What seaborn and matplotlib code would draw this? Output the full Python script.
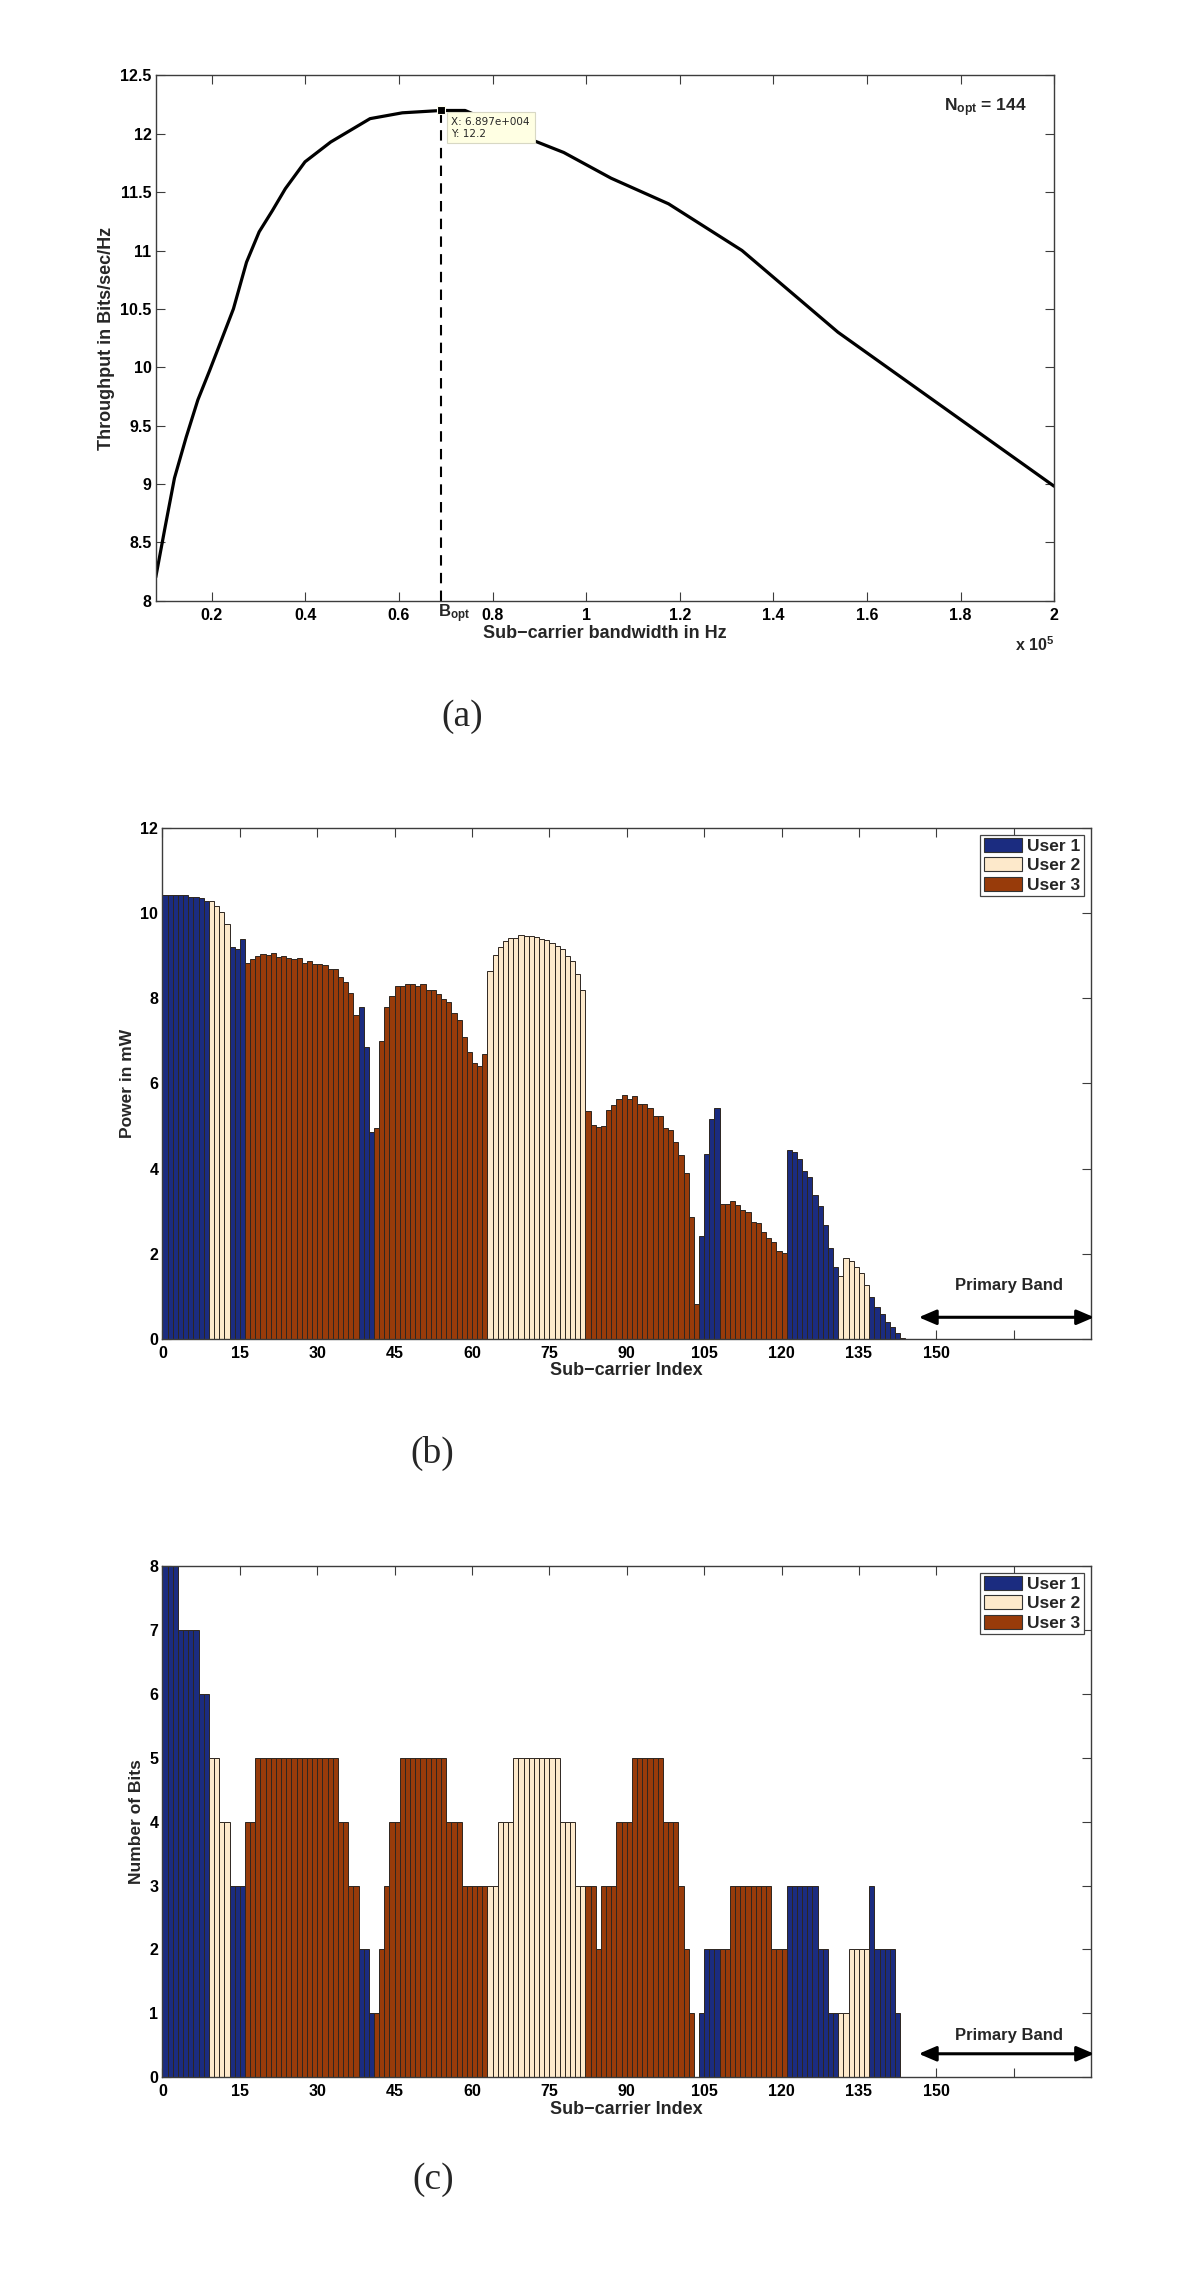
import numpy as np
import pandas as pd
import matplotlib
matplotlib.use("Agg")
import matplotlib.pyplot as plt
import matplotlib.transforms as mtransforms
from matplotlib.patches import Patch
import seaborn as sns

# ---------------- data ----------------
# (a) throughput vs sub-carrier bandwidth (x in units of 1e5 Hz)
bandwidth = [0.080, 0.100, 0.120, 0.145, 0.170, 0.195, 0.222, 0.246, 0.274, 0.301,
             0.329, 0.357, 0.399, 0.454, 0.538, 0.607, 0.6897, 0.741, 0.800, 0.870,
             0.952, 1.053, 1.176, 1.333, 1.538, 2.000]
throughput = [8.20, 8.63, 9.05, 9.40, 9.72, 9.97, 10.25, 10.50, 10.90, 11.16,
              11.34, 11.53, 11.76, 11.93, 12.13, 12.18, 12.20, 12.20, 12.10, 11.97,
              11.84, 11.62, 11.40, 11.00, 10.30, 8.98]
b_opt = 0.6897
t_opt = 12.2

# (b) power per sub-carrier (mW)
power = [10.42, 10.42, 10.42, 10.41, 10.41, 10.38, 10.37, 10.34, 10.29,
         10.27, 10.16, 10.03, 9.74,
         9.19, 9.16, 9.39,
         8.82, 8.92, 9.00, 9.04, 9.01, 9.05, 8.97, 8.99, 8.95, 8.92, 8.93,
         8.83, 8.88, 8.79, 8.79, 8.77, 8.68, 8.68, 8.50, 8.39, 8.13, 7.61,
         7.80, 6.85, 4.86,
         4.96, 6.99, 7.80, 8.05, 8.28, 8.28, 8.34, 8.34, 8.29, 8.32, 8.19,
         8.20, 8.09, 7.99, 7.91, 7.65, 7.49, 7.08, 6.73, 6.48, 6.41, 6.68,
         8.64, 9.01, 9.21, 9.33, 9.42, 9.42, 9.47, 9.45, 9.45, 9.44, 9.38,
         9.37, 9.29, 9.23, 9.15, 9.00, 8.87, 8.56, 8.19,
         5.36, 5.02, 4.98, 5.01, 5.38, 5.49, 5.63, 5.72, 5.63, 5.70, 5.52,
         5.51, 5.41, 5.24, 5.23, 4.96, 4.90, 4.62, 4.32, 3.90, 2.86, 0.81,
         2.41, 4.34, 5.16, 5.41,
         3.18, 3.16, 3.23, 3.14, 3.02, 2.99, 2.75, 2.72, 2.50, 2.36, 2.27, 2.07, 2.01,
         4.44, 4.38, 4.23, 3.94, 3.81, 3.39, 3.13, 2.68, 2.13, 1.69,
         1.47, 1.91, 1.83, 1.70, 1.55, 1.26,
         0.99, 0.74, 0.58, 0.41, 0.28, 0.13, 0.02]

# (c) bits per sub-carrier
bits = [8, 8, 8, 7, 7, 7, 7, 6, 6,
        5, 5, 4, 4,
        3, 3, 3,
        4, 4, 5, 5, 5, 5, 5, 5, 5, 5, 5, 5, 5, 5, 5, 5, 5, 5, 4, 4, 3, 3,
        2, 2, 1,
        1, 2, 3, 4, 4, 5, 5, 5, 5, 5, 5, 5, 5, 5, 4, 4, 4, 3, 3, 3, 3, 3,
        3, 3, 4, 4, 4, 5, 5, 5, 5, 5, 5, 5, 5, 5, 4, 4, 4, 3, 3,
        3, 3, 2, 3, 3, 3, 4, 4, 4, 5, 5, 5, 5, 5, 5, 4, 4, 4, 3, 2, 1, 0,
        1, 2, 2, 2,
        2, 2, 3, 3, 3, 3, 3, 3, 3, 3, 2, 2, 2,
        3, 3, 3, 3, 3, 3, 2, 2, 1, 1,
        1, 1, 2, 2, 2, 2,
        3, 2, 2, 2, 2, 1, 0]

# user owning each sub-carrier
users = [1, 1, 1, 1, 1, 1, 1, 1, 1,
         2, 2, 2, 2,
         1, 1, 1,
         3, 3, 3, 3, 3, 3, 3, 3, 3, 3, 3, 3, 3, 3, 3, 3, 3, 3, 3, 3, 3, 3,
         1, 1, 1,
         3, 3, 3, 3, 3, 3, 3, 3, 3, 3, 3, 3, 3, 3, 3, 3, 3, 3, 3, 3, 3, 3,
         2, 2, 2, 2, 2, 2, 2, 2, 2, 2, 2, 2, 2, 2, 2, 2, 2, 2, 2,
         3, 3, 3, 3, 3, 3, 3, 3, 3, 3, 3, 3, 3, 3, 3, 3, 3, 3, 3, 3, 3, 3,
         1, 1, 1, 1,
         3, 3, 3, 3, 3, 3, 3, 3, 3, 3, 3, 3, 3,
         1, 1, 1, 1, 1, 1, 1, 1, 1, 1,
         2, 2, 2, 2, 2, 2,
         1, 1, 1, 1, 1, 1, 1]

user_names = ["User 1", "User 2", "User 3"]
user_colors = ["#1b2c80", "#fde9cb", "#983b0a"]

xticks_idx = [0, 15, 30, 45, 60, 75, 90, 105, 120, 135, 150, 165]
xtick_labels = ["0", "15", "30", "45", "60", "75", "90", "105", "120", "135", "150", ""]

# ---------------- style ----------------
sns.set_theme(style="white")
plt.rcParams["font.family"] = ["Liberation Sans", "DejaVu Sans"]
plt.rcParams["font.weight"] = "bold"
plt.rcParams["axes.labelweight"] = "bold"
plt.rcParams["mathtext.fontset"] = "custom"
plt.rcParams["mathtext.rm"] = "Liberation Sans:bold"
plt.rcParams["mathtext.bf"] = "Liberation Sans:bold"
plt.rcParams["mathtext.it"] = "Liberation Sans:bold"

spine_col = "#3c3c3c"
tick_fs = 11.5
label_fs = 13


def style_axes(ax):
    for s in ax.spines.values():
        s.set_visible(True)
        s.set_color(spine_col)
        s.set_linewidth(1.0)
    ax.tick_params(axis="both", which="both", direction="in", length=6.5, width=0.8,
                   colors=spine_col, top=True, right=True, bottom=True, left=True,
                   labelsize=tick_fs, labelcolor="black")
    ax.tick_params(axis="x", pad=5)
    ax.tick_params(axis="y", pad=3)
    for lab in ax.get_xticklabels() + ax.get_yticklabels():
        lab.set_fontweight("bold")


fig = plt.figure(figsize=(12, 22.94), dpi=100)

# ---------------- panel (a) ----------------
axA = fig.add_axes([0.1298, 0.7382, 0.7486, 0.2289])
dfA = pd.DataFrame({"bw": bandwidth, "tp": throughput})
sns.lineplot(data=dfA, x="bw", y="tp", color="black", linewidth=2.3,
             estimator=None, ax=axA)
axA.plot([b_opt, b_opt], [8.0, t_opt], color="black", lw=1.5, ls=(0, (5, 3.5)))
axA.plot([b_opt], [t_opt], marker="s", ms=5.5, mfc="black", mec="#fffff0", mew=0.8)
axA.text(0.712, 12.147, "X: 6.897e+004\nY: 12.2", fontsize=7.5, fontweight="normal",
         family=["DejaVu Sans"], ha="left", va="top", linespacing=1.25,
         bbox=dict(boxstyle="square,pad=0.45", fc="#ffffe3", ec="#d8d8c4", lw=0.8))
axA.text(1.765, 12.22, r"N$_{\mathrm{opt}}$ = 144", fontsize=12.5, fontweight="bold",
         ha="left", va="center")
axA.set_xlim(0.08, 2.0)
axA.set_ylim(8.0, 12.5)
axA.set_xticks([0.2, 0.4, 0.6, 0.8, 1.0, 1.2, 1.4, 1.6, 1.8, 2.0])
axA.set_xticklabels(["0.2", "0.4", "0.6", "0.8", "1", "1.2", "1.4", "1.6", "1.8", "2"])
axA.set_yticks([8, 8.5, 9, 9.5, 10, 10.5, 11, 11.5, 12, 12.5])
axA.set_yticklabels(["8", "8.5", "9", "9.5", "10", "10.5", "11", "11.5", "12", "12.5"])
axA.set_xlabel("Sub\u2212carrier bandwidth in Hz", fontsize=label_fs, fontweight="bold",
               labelpad=2)
axA.set_ylabel("Throughput in Bits/sec/Hz", fontsize=label_fs, fontweight="bold")
style_axes(axA)
trA = mtransforms.blended_transform_factory(axA.transData, axA.transAxes)
axA.text(0.684, -0.003, r"B$_{\mathrm{opt}}$", transform=trA, fontsize=12,
         fontweight="bold", ha="left", va="top")
axA.text(1.0, -0.066, r"x 10$^{5}$", transform=axA.transAxes, fontsize=11.5,
         fontweight="bold", ha="right", va="top")

# ---------------- bar panels ----------------
idx_pos = np.arange(len(power)) + 0.5
user_lab = [user_names[u - 1] for u in users]
legend_handles = [Patch(facecolor=c, edgecolor="#333333", linewidth=0.8, label=n)
                  for n, c in zip(user_names, user_colors)]


def bar_panel(rect, values, ylim, yticks, ylabel, arrow_y, text_y):
    ax = fig.add_axes(rect)
    df = pd.DataFrame({"idx": idx_pos, "val": values, "user": user_lab})
    sns.barplot(data=df, x="idx", y="val", hue="user", hue_order=user_names,
                palette=dict(zip(user_names, user_colors)), native_scale=True,
                width=1.0, dodge=False, saturation=1, errorbar=None, legend=False,
                edgecolor="#2e2620", linewidth=0.7, ax=ax)
    ax.set_xlim(0, 180)
    ax.set_ylim(*ylim)
    ax.set_xticks(xticks_idx)
    ax.set_xticklabels(xtick_labels)
    ax.set_yticks(yticks)
    ax.set_yticklabels([str(v) for v in yticks])
    ax.set_xlabel("Sub\u2212carrier Index", fontsize=label_fs, fontweight="bold", labelpad=1)
    ax.set_ylabel(ylabel, fontsize=label_fs - 0.5, fontweight="bold")
    style_axes(ax)
    leg = ax.legend(handles=legend_handles, loc="upper right", bbox_to_anchor=(1.0, 1.0),
                    borderaxespad=0.4, fancybox=False, framealpha=1, edgecolor="#444444",
                    prop={"weight": "bold", "size": 12.5}, handlelength=2.2,
                    handleheight=0.85, handletextpad=0.3, labelspacing=0.2,
                    borderpad=0.2)
    leg.get_frame().set_linewidth(0.9)
    ax.annotate("", xy=(180.6, arrow_y), xytext=(146.6, arrow_y),
                arrowprops=dict(arrowstyle="<|-|>,head_length=0.7,head_width=0.3",
                                color="black", lw=2.2, mutation_scale=15,
                                shrinkA=0, shrinkB=0),
                annotation_clip=False)
    ax.text(164.0, text_y, "Primary Band", fontsize=12, fontweight="bold",
            ha="center", va="center")
    return ax


axB = bar_panel([0.1354, 0.4163, 0.7738, 0.2229], power, (0, 12),
                [0, 2, 4, 6, 8, 10, 12], "Power in mW", 0.51, 1.25)
axC = bar_panel([0.1354, 0.0944, 0.7738, 0.2231], bits, (0, 8),
                [0, 1, 2, 3, 4, 5, 6, 7, 8], "Number of Bits", 0.37, 0.65)

# ---------------- captions ----------------
cap_font = ["Liberation Serif", "DejaVu Serif"]
fig.text(0.385, 0.6874, "(a)", family=cap_font, fontsize=27, fontweight="normal",
         ha="center", va="center")
fig.text(0.360, 0.3666, "(b)", family=cap_font, fontsize=27, fontweight="normal",
         ha="center", va="center")
fig.text(0.361, 0.0497, "(c)", family=cap_font, fontsize=27, fontweight="normal",
         ha="center", va="center")

fig.savefig("out.png", dpi=100, facecolor="white")
